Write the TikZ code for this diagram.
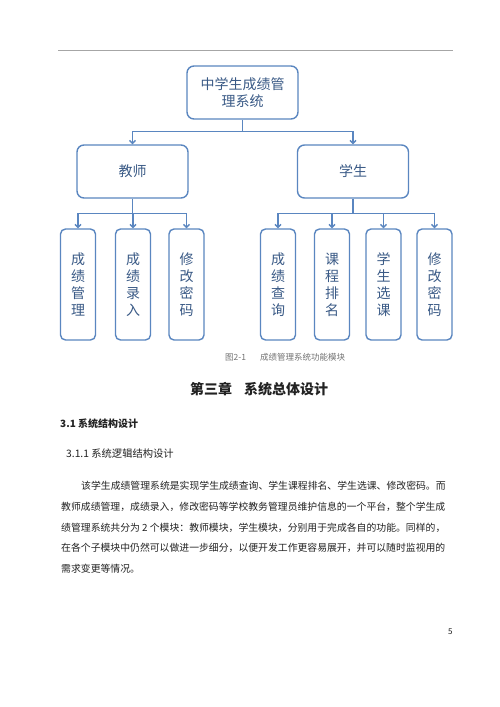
\documentclass[tikz,border=0pt]{standalone}
\usepackage{fontspec}
\setmainfont{Noto Sans CJK SC}
\newfontfamily\cjk{Noto Sans CJK SC}
\usetikzlibrary{arrows.meta, positioning}

\definecolor{boxline}{HTML}{5A86C0}
\definecolor{boxtext}{HTML}{3A5A86}
\definecolor{bodytext}{HTML}{222222}

\tikzset{
	box/.style = {draw=boxline, line width=1.4pt, rounded corners=7pt,
		text=boxtext, align=center, font=\cjk\fontsize{14}{17}\selectfont},
	topbox/.style = {box, minimum width=111pt, minimum height=53pt},
	midbox/.style = {box, minimum width=111pt, minimum height=53pt},
	leafbox/.style = {box, rounded corners=5pt, minimum width=35pt, minimum height=111pt, text width=14pt},
	link/.style = {draw=boxline, line width=1.4pt},
	arrow/.style = {link, -{Straight Barb[length=3pt, width=6pt]}},
	bodyline/.style = {anchor=base west, inner sep=0pt, text=bodytext, font=\cjk\fontsize{9.85}{12}\selectfont},
}

\begin{document}
\begin{tikzpicture}[x=1pt, y=-1pt]
	\useasboundingbox (0,0) rectangle (500,707);
	\fill[white] (0,0) rectangle (500,707);

	% header rule
	\draw[gray!70, line width=0.8pt] (58,50) -- (453,50);

	% tree
	\node[topbox] (sys) at (242.5,92.5) {中学生成绩管\\理系统};
	\node[midbox] (teacher) at (132.5,171.5) {教师};
	\node[midbox] (student) at (353,171.5) {学生};

	\node[leafbox] (t1) at (78,284.5) {成\\绩\\管\\理};
	\node[leafbox] (t2) at (133,284.5) {成\\绩\\录\\入};
	\node[leafbox] (t3) at (186.5,284.5) {修\\改\\密\\码};

	\node[leafbox] (s1) at (278,284.5) {成\\绩\\查\\询};
	\node[leafbox] (s2) at (332,284.5) {课\\程\\排\\名};
	\node[leafbox] (s3) at (383.5,284.5) {学\\生\\选\\课};
	\node[leafbox] (s4) at (434.5,284.5) {修\\改\\密\\码};

	% connectors
	\coordinate (sysj) at ([yshift=-12pt]sys.south);
	\draw[link] (sys.south) -- (sysj);
	\foreach \child in {teacher, student}
		\draw[arrow] (sysj) -| (\child.north);

	\coordinate (tj) at ([yshift=-15pt]teacher.south);
	\draw[link] (teacher.south) -- (tj);
	\foreach \child in {t1, t2, t3}
		\draw[arrow] (tj) -| (\child.north);

	\coordinate (sj) at ([yshift=-15pt]student.south);
	\draw[link] (student.south) -- (sj);
	\foreach \child in {s1, s2, s3, s4}
		\draw[arrow] (sj) -| (\child.north);

	% caption
	\node[anchor=base west, inner sep=0pt, text=gray!90!black, font=\cjk\fontsize{8.5}{10}\selectfont]
		(caption) at (225,360) {图2-1\hspace{14pt}成绩管理系统功能模块};

	% chapter and section titles
	\node[anchor=base, inner sep=0pt, text=bodytext, font=\cjk\bfseries\fontsize{14}{16}\selectfont]
		(chapter) at (259,394) {第三章\hspace{12pt}系统总体设计};
	\node[bodyline, font=\cjk\bfseries\fontsize{10}{12}\selectfont] (sec) at (60,427) {3.1 系统结构设计};
	\node[bodyline, font=\cjk\fontsize{10.3}{12}\selectfont] (subsec) at (66,457) {3.1.1 系统逻辑结构设计};

	% body text
	\node[bodyline] (p1) at (81,489) {该学生成绩管理系统是实现学生成绩查询、学生课程排名、学生选课、修改密码。而};
	\node[bodyline] (p2) at (61,510) {教师成绩管理，成绩录入，修改密码等学校教务管理员维护信息的一个平台，整个学生成};
	\node[bodyline] (p3) at (61,531) {绩管理系统共分为 2 个模块：教师模块，学生模块，分别用于完成各自的功能。同样的，};
	\node[bodyline] (p4) at (61,551) {在各个子模块中仍然可以做进一步细分，以便开发工作更容易展开，并可以随时监视用的};
	\node[bodyline] (p5) at (61,572) {需求变更等情况。};

	% page number
	\node[bodyline, font=\cjk\fontsize{8}{10}\selectfont] (page) at (448,634) {5};
\end{tikzpicture}
\end{document}
